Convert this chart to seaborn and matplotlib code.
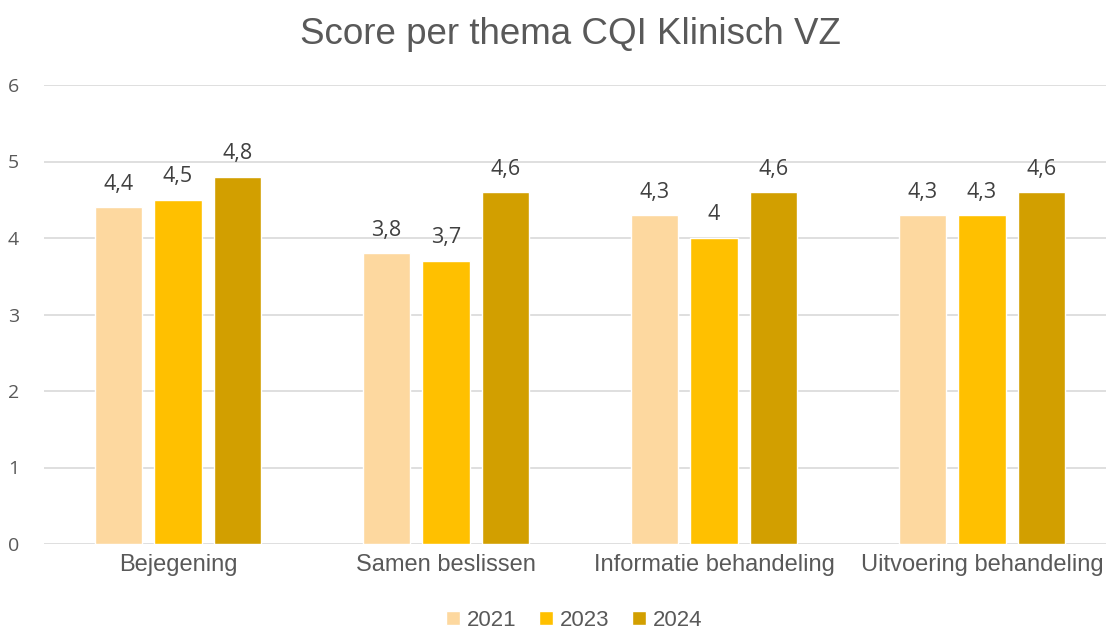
import matplotlib
matplotlib.use("Agg")
import matplotlib.pyplot as plt
import seaborn as sns
import pandas as pd

categories = ["Bejegening", "Samen beslissen", "Informatie behandeling", "Uitvoering behandeling"]
years = ["2021", "2023", "2024"]
values_2021 = [4.4, 3.8, 4.3, 4.3]
values_2023 = [4.5, 3.7, 4.0, 4.3]
values_2024 = [4.8, 4.6, 4.6, 4.6]
colors = ["#FDD89F", "#FFC000", "#D29F00"]
title = "Score per thema CQI Klinisch VZ"

rows = []
for y, vals in zip(years, [values_2021, values_2023, values_2024]):
    for c, v in zip(categories, vals):
        rows.append({"Thema": c, "Jaar": y, "Score": v})
df = pd.DataFrame(rows)

sns.set_theme(style="white")
plt.rcParams["font.family"] = ["Liberation Sans", "DejaVu Sans"]

W, H = 1106, 633
fig = plt.figure(figsize=(W / 100, H / 100), dpi=100)
ax = fig.add_axes([44 / W, 89 / H, (W - 44) / W, 459 / H])

sns.barplot(data=df, x="Thema", y="Score", hue="Jaar", order=categories,
            hue_order=years, palette=colors, width=0.666, gap=0.21,
            saturation=1, ax=ax, legend=True)

ax.set_ylim(0, 6)
ax.set_xlim(-0.5, -0.5 + (W - 44) / 268)
ax.set_yticks(range(0, 7))
ax.yaxis.grid(True, color="#D9D9D9", linewidth=1.2)
ax.set_axisbelow(True)
for s in ax.spines.values():
    s.set_visible(False)
ax.set_xlabel("")
ax.set_ylabel("")
ax.tick_params(axis="both", length=0)
ax.tick_params(axis="y", pad=18)
for lab in ax.get_yticklabels():
    lab.set_fontfamily(["Open Sans", "DejaVu Sans"])
    lab.set_fontsize(14)
    lab.set_color("#595959")
for lab in ax.get_xticklabels():
    lab.set_fontsize(17)
    lab.set_color("#595959")
ax.tick_params(axis="x", pad=7)

for cont in ax.containers:
    labels = [f"{v:g}".replace(".", ",") for v in cont.datavalues]
    ax.bar_label(cont, labels=labels, padding=9, fontsize=15.5,
                 color="#404040", family=["Open Sans", "DejaVu Sans"])

leg = ax.legend(loc="lower center", ncol=3, frameon=False, fontsize=16,
                handlelength=0.65, handleheight=0.65, handletextpad=0.3,
                columnspacing=1.0)
leg.set_bbox_to_anchor((574 / W, -0.028), transform=fig.transFigure)
for t in leg.get_texts():
    t.set_color("#595959")

fig.text(570 / W, 1 - 35 / H, title, ha="center", va="center",
         fontsize=26.5, color="#595959")

fig.savefig("out.png", dpi=100)
